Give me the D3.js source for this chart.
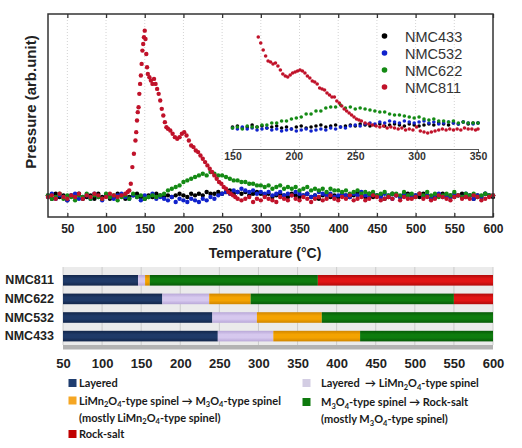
<!DOCTYPE html>
<html><head><meta charset="utf-8">
<script src="https://cdn.jsdelivr.net/npm/d3@7"></script>
<style>body{margin:0;background:#fff;} svg{display:block;}</style>
</head><body>
<svg id="chart" width="522" height="448"></svg>
<script>
// ---------------- DATA ----------------
const seriesNames = ["NMC433", "NMC532", "NMC622", "NMC811"];
const seriesColors = ["#000000", "#1022cc", "#148a14", "#c0122a"];
const xTicks = [50,100,150,200,250,300,350,400,450,500,550,600];
const insetTicks = [150,200,250,300,350];

const temps = [
 25,30,35,40,45,50,55,60,65,70,
 75,80,85,90,95,100,105,110,115,120,
 125,130,135,140,145,150,155,160,165,170,
 175,180,185,190,195,200,205,210,215,220,
 225,230,235,240,245,250,255,260,265,270,
 275,280,285,290,295,300,305,310,315,320,
 325,330,335,340,345,350,355,360,365,370,
 375,380,385,390,395,400,405,410,415,420,
 425,430,435,440,445,450,455,460,465,470,
 475,480,485,490,495,500,505,510,515,520,
 525,530,535,540,545,550,555,560,565,570,
 575,580,585,590,595,600];
const nmc433 = [
 1,-1,2,0,1,-2,1,0,2,-1,
 0,1,-1,2,0,1,-1,0,2,1,
 -1,0,1,2,0,-1,1,0,2,1,
 0,1,0,1,2,1,0,2,1,2,
 1,3,2,2,3,2,3,4,2,3,
 2,3,1,2,3,2,1,2,0,1,
 2,1,0,2,1,0,1,2,0,1,
 -1,1,2,0,1,0,2,1,0,1,
 3,1,0,2,0,1,1,-1,0,2,
 1,0,1,2,0,1,0,2,1,-1,
 0,1,2,0,1,0,1,2,0,1,
 -1,1,0,2,1,0];
const nmc532 = [
 0,2,-1,1,0,-2,1,2,-1,0,
 1,-1,2,0,-2,1,0,-1,1,2,
 0,-1,1,0,-2,1,0,2,-1,0,
 -1,-2,0,-3,-1,-2,-3,-1,-2,-3,
 -1,-2,0,-1,1,2,3,2,4,3,
 5,4,3,4,2,3,2,3,1,2,
 3,1,2,1,3,2,1,2,0,1,
 3,2,1,2,0,1,2,1,0,2,
 1,3,1,0,2,1,0,2,1,-1,
 1,0,2,1,0,1,2,0,1,-1,
 1,2,0,1,0,2,1,0,2,1,
 -1,1,0,2,1,1];
const nmc622 = [
 1,-1,0,2,-1,1,0,-2,1,0,
 2,-1,1,0,-1,2,0,1,-2,0,
 1,-1,2,0,1,-1,0,1,0,1,
 2,4,5,6,7,9,10,11,12,13,
 14,13,15,14,13,13,12,11,10,10,
 9,9,8,8,7,7,6,7,5,6,
 7,5,6,5,6,4,5,6,4,5,
 4,5,3,5,4,4,3,4,2,3,
 4,2,3,2,3,1,2,3,1,2,
 2,1,3,1,2,0,2,1,3,1,
 2,0,1,2,1,3,1,0,2,1,
 2,0,1,2,1,1];
const nmc811 = [
 [25,0],[30,1],[35,-1],[40,2],[45,0],[50,-1],[55,1],[60,0],[65,2],[70,-1],
 [75,1],[80,0],[85,2],[90,1],[95,-1],[100,0],[105,2],[110,1],[115,0],[120,1],[125,2],
 [128,3],[130,4],[132,8],[134,18],[136,26],[138,34],[139,39],[140,46],[141,51],[142,54],
 [143,62],[144,68],[145,73],[146,80],[147,88],[148,92],[149,96],[150,100],[151,95],[152,86],
 [153,78],[154,74],[156,72],[158,70],[160,68],[162,71],[164,68],[166,65],[168,62],[170,58],
 [172,53],[174,49],[176,45],[178,42],[180,41],[183,40],[186,38],[189,36],[192,35],[195,36],
 [198,38],[201,39],[204,37],[207,34],[210,31],[213,30],[216,28],[219,27],[222,25],[225,23],
 [228,21],[231,19],[234,17],[237,15],[240,13],[243,11],[246,9],[249,8],[252,6],[255,5],
 [258,3],[261,2],[264,1],[267,0],[270,-1],
 [275,-2],[280,-1],[285,0],[290,-3],[295,-1],[300,-2],[305,0],[310,-1],[315,-2],[320,-3],
 [325,0],[330,-1],[335,-2],[340,1],[345,-1],[350,-2],[355,0],[360,-1],[365,-3],[370,-1],
 [375,0],[380,-2],[385,-1],[390,1],[395,-1],[400,-2],[405,0],[410,-1],[415,1],[420,-2],
 [425,-1],[430,0],[435,-2],[440,-1],[445,1],[450,0],[455,-2],[460,-1],[465,0],[470,-1],
 [475,1],[480,-2],[485,0],[490,-1],[495,-1],[500,0],[505,2],[510,-1],[515,0],[520,-2],
 [525,-1],[530,1],[535,0],[540,-1],[545,-2],[550,0],[555,1],[560,-1],[565,0],[570,-1],
 [575,1],[580,0],[585,-2],[590,-1],[595,0],[600,1]];

// inset (zoomed 150-350 °C)
const insetTemps = [
 150,154,158,162,166,170,174,178,182,186,
 190,194,198,202,206,210,214,218,222,226,
 230,234,238,242,246,250,254,258,262,266,
 270,274,278,282,286,290,294,298,302,306,
 310,314,318,322,326,330,334,338,342,346,
 350];
const inset433 = [
 1,2,0,1,3,1,2,0,1,2,
 0,1,-1,1,2,0,1,2,3,1,
 2,3,1,2,3,2,4,3,2,3,
 4,2,3,4,3,2,4,3,2,3,
 4,3,5,4,3,5,4,6,4,5,
 5];
const inset532 = [
 0,-1,1,-1,0,-2,-1,0,-2,-1,
 -3,-2,-1,-3,-2,-1,-3,-2,-1,-2,
 0,-1,1,0,2,3,2,4,5,4,
 6,5,7,6,5,7,6,5,6,7,
 5,6,4,5,6,5,4,6,5,4,
 5];
const inset622 = [
 0,1,-1,2,1,1,3,3,5,5,
 7,7,9,10,11,14,14,17,17,20,
 21,21,23,20,21,19,20,19,18,17,
 16,16,14,13,13,12,11,10,11,9,
 8,9,7,7,6,7,5,6,5,5,
 5];
const inset811 = [
 [171,91],[173,85],[175,78],[177,72],[179,67],[181,66],[183,64],[185,65],[187,62],[189,58],
 [191,54],[193,52],[195,51],[197,53],[199,55],[201,56],[203,57],[205,58],[207,57],[209,55],
 [211,52],[213,50],[215,47],[217,46],[219,44],[221,40],[223,39],[225,38],[227,35],[229,33],
 [231,31],[233,31],[235,27],[237,25],[239,22],[241,19],[243,17],[245,15],[247,13],[249,11],
 [251,9],[253,8],[255,7],[258,5],[261,4],[264,3],[267,2],[270,1],[273,2],[276,0],
 [279,1],[282,0],[285,-1],[288,0],[291,-2],[294,-1],[297,-2],[300,1],[303,-3],[306,-4],
 [309,-5],[312,-4],[315,-3],[318,-2],[321,-1],[324,-2],[327,-1],[330,-2],[333,-1],[336,-2],
 [339,0],[342,-1],[345,-1],[348,-2],[350,-1]];

// phase bar chart
const samples = ["NMC811","NMC622","NMC532","NMC433"];
const phaseNames = ["Layered", "Layered → LiMn2O4-type spinel", "LiMn2O4 → M3O4-type spinel",
                    "M3O4-type spinel → Rock-salt", "Rock-salt"];
const phaseColors = ["#1f3a68", "#d6c8ee", "#f4a300", "#0e7c0e", "#e11414"];
const phaseDark   = ["#13264a", "#b9a8d8", "#d08600", "#075a07", "#b00a0a"];
const bounds811 = [50,146,155,161,376,600];
const bounds622 = [50,177,237,290,550,600];
const bounds532 = [50,241,298,381,600,600];
const bounds433 = [50,248,319,430,600,600];
const barTicks = [50,100,150,200,250,300,350,400,450,500,550,600];

// ---------------- DRAW ----------------
const svg = d3.select("#chart");
const defs = svg.append("defs");
const FONT = "'Liberation Sans', Arial, sans-serif";

// top chart geometry
const L = 48, R = 493, T = 14, B = 217;
const x = d3.scaleLinear().domain([25, 600]).range([L, R]);
const y = d3.scaleLinear().domain([-12, 110]).range([B, T]);

// grid
svg.append("g").selectAll("line").data(xTicks.filter(d => d < 600)).join("line")
  .attr("x1", d => x(d)).attr("x2", d => x(d)).attr("y1", T).attr("y2", B)
  .attr("stroke", "#c8c8c8").attr("stroke-width", 0.8).attr("stroke-dasharray", "1,2");

// main series
const mainSets = [
  temps.map((t,i) => [t, nmc433[i]]),
  temps.map((t,i) => [t, nmc532[i]]),
  temps.map((t,i) => [t, nmc622[i]]),
  nmc811
];
mainSets.forEach((set, k) => {
  svg.append("g").selectAll("circle").data(set.filter(d => d[1] !== undefined)).join("circle")
    .attr("cx", d => x(d[0])).attr("cy", d => y(d[1])).attr("r", 2.2)
    .attr("fill", seriesColors[k]);
});

// inset
const ix = d3.scaleLinear().domain([150, 350]).range([232.5, 478]);
const iy = d3.scaleLinear().domain([0, 100]).range([128, 28]);
const insetSets = [
  insetTemps.map((t,i) => [t, inset433[i]]),
  insetTemps.map((t,i) => [t, inset532[i]]),
  insetTemps.map((t,i) => [t, inset622[i]]),
  inset811
];
insetSets.forEach((set, k) => {
  svg.append("g").selectAll("circle").data(set).join("circle")
    .attr("cx", d => ix(d[0])).attr("cy", d => iy(d[1])).attr("r", 1.8)
    .attr("fill", seriesColors[k]);
});
const insetAxis = svg.append("g").attr("transform", "translate(0,149)")
  .call(d3.axisBottom(ix).tickValues(insetTicks).tickSize(3).tickSizeOuter(0).tickPadding(1));
insetAxis.select(".domain").attr("stroke", "#555").attr("stroke-width", 1.2);
insetAxis.selectAll(".tick line").attr("stroke", "#555");
insetAxis.selectAll("text").attr("font-family", FONT).attr("font-weight", "bold")
  .attr("font-size", "10.5px").attr("fill", "#333");

// axes (ticks inward)
const bottomAxis = svg.append("g").attr("transform", `translate(0,${B})`)
  .call(d3.axisBottom(x).tickValues(xTicks).tickSize(-4).tickPadding(7));
bottomAxis.select(".domain").remove();
bottomAxis.selectAll(".tick line").attr("stroke", "#333").attr("stroke-width", 1.3);
bottomAxis.selectAll("text").attr("font-family", FONT).attr("font-weight", "bold")
  .attr("font-size", "12px").attr("fill", "#222");
const topAxis = svg.append("g").attr("transform", `translate(0,${T})`)
  .call(d3.axisTop(x).tickValues(xTicks).tickSize(-4).tickFormat(""));
topAxis.select(".domain").remove();
topAxis.selectAll(".tick line").attr("stroke", "#333").attr("stroke-width", 1.3);
topAxis.selectAll("text").remove();

// frame
svg.append("rect").attr("x", L).attr("y", T).attr("width", R - L).attr("height", B - T)
  .attr("fill", "none").attr("stroke", "#333").attr("stroke-width", 1.5);

// axis titles
svg.append("text").attr("x", 265).attr("y", 258).attr("text-anchor", "middle")
  .attr("font-family", FONT).attr("font-weight", "bold").attr("font-size", "14px").attr("fill", "#222")
  .text("Temperature (°C)");
svg.append("text").attr("transform", "translate(36,102) rotate(-90)").attr("text-anchor", "middle")
  .attr("font-family", FONT).attr("font-weight", "bold").attr("font-size", "15px").attr("fill", "#222")
  .text("Pressure (arb.unit)");

// legend (top)
const lg = svg.append("g");
seriesNames.forEach((n, i) => {
  lg.append("circle").attr("cx", 384.5).attr("cy", 36 + i * 17).attr("r", 2.8).attr("fill", seriesColors[i]);
  lg.append("text").attr("x", 405).attr("y", 41.5 + i * 17)
    .attr("font-family", FONT).attr("font-size", "14.5px").attr("fill", "#333").text(n);
});

// ---------------- BAR CHART ----------------
const bx = d3.scaleLinear().domain([50, 600]).range([63, 493]);
const by = d3.scaleBand().domain(samples).range([267, 349.4]).padding(0.43);

svg.append("rect").attr("x", bx(50)).attr("y", 267).attr("width", bx(600) - bx(50)).attr("height", 78)
  .attr("fill", "#ebebeb");
svg.append("rect").attr("x", bx(50)).attr("y", 345).attr("width", bx(600) - bx(50)).attr("height", 4.5)
  .attr("fill", "#b3b3b3");
svg.append("g").selectAll("line").data(barTicks).join("line")
  .attr("x1", d => bx(d)).attr("x2", d => bx(d)).attr("y1", 267).attr("y2", 345)
  .attr("stroke", "#c4c4c4").attr("stroke-width", 0.8);

phaseColors.forEach((c, i) => {
  const g = defs.append("linearGradient").attr("id", "pg" + i).attr("x1", 0).attr("x2", 0).attr("y1", 0).attr("y2", 1);
  g.append("stop").attr("offset", "0%").attr("stop-color", phaseDark[i]);
  g.append("stop").attr("offset", "35%").attr("stop-color", c);
  g.append("stop").attr("offset", "65%").attr("stop-color", c);
  g.append("stop").attr("offset", "100%").attr("stop-color", phaseDark[i]);
});

const boundsBySample = { NMC811: bounds811, NMC622: bounds622, NMC532: bounds532, NMC433: bounds433 };
const segs = [];
samples.forEach(s => {
  const b = boundsBySample[s];
  for (let i = 0; i < 5; i++) if (b[i + 1] > b[i]) segs.push({ s, i, x0: b[i], x1: b[i + 1] });
});
svg.append("g").selectAll("rect").data(segs).join("rect")
  .attr("x", d => bx(d.x0)).attr("width", d => bx(d.x1) - bx(d.x0))
  .attr("y", d => by(d.s)).attr("height", by.bandwidth())
  .attr("fill", d => `url(#pg${d.i})`);

const bAxis = svg.append("g").attr("transform", "translate(0,349)")
  .call(d3.axisBottom(bx).tickValues(barTicks).tickSize(0).tickPadding(10));
bAxis.select(".domain").remove();
bAxis.selectAll("text").attr("font-family", FONT).attr("font-weight", "bold")
  .attr("font-size", "13px").attr("fill", "#222");
const lAxis = svg.append("g").attr("transform", "translate(63,0)")
  .call(d3.axisLeft(by).tickSize(0).tickPadding(9));
lAxis.select(".domain").remove();
lAxis.selectAll("text").attr("font-family", FONT).attr("font-weight", "bold")
  .attr("font-size", "12.5px").attr("fill", "#222");

// ---------------- BOTTOM LEGEND ----------------
const LFONT = "Lato, 'Open Sans', sans-serif";
function rich(sel, str) {
  const parts = str.split(/_(\d)/);
  let shifted = false;
  parts.forEach((p, i) => {
    if (!p) return;
    if (i % 2 === 0) {
      const ts = sel.append("tspan").text(p);
      if (shifted) { ts.attr("dy", -2.5); shifted = false; }
    } else {
      const ts = sel.append("tspan").attr("font-size", "7.5px").text(p);
      ts.attr("dy", shifted ? 0 : 2.5);
      shifted = true;
    }
  });
}
const legendItems = [
  { c: 0, x: 68.5, y: 383, lines: ["Layered"] },
  { c: 2, x: 68.5, y: 400.5, lines: ["LiMn_2O_4-type spinel → M_3O_4-type spinel", "(mostly LiMn_2O_4-type spinel)"] },
  { c: 4, x: 68.5, y: 434, lines: ["Rock-salt"] },
  { c: 1, x: 302.5, y: 383, lines: ["Layered  → LiMn_2O_4-type spinel"] },
  { c: 3, x: 302.5, y: 402, lines: ["M_3O_4-type spinel → Rock-salt", "(mostly M_3O_4-type spinel)"] }
];
const legendSquare = ["#1f3d6f", "#d3cde3", "#f5a623", "#0e7a0e", "#c00000"];
legendItems.forEach(it => {
  svg.append("rect").attr("x", it.x).attr("y", it.y - 4).attr("width", 8).attr("height", 8)
    .attr("fill", legendSquare[it.c]);
  it.lines.forEach((ln, j) => {
    const t = svg.append("text").attr("x", it.x + (it.x < 100 ? 10.5 : 18.5)).attr("y", it.y + 4 + j * 17)
      .attr("font-family", LFONT).attr("font-weight", "bold").attr("font-size", "11px").attr("fill", "#1a1a1a")
      .style("white-space", "pre");
    rich(t, ln);
  });
});
</script></body></html>
